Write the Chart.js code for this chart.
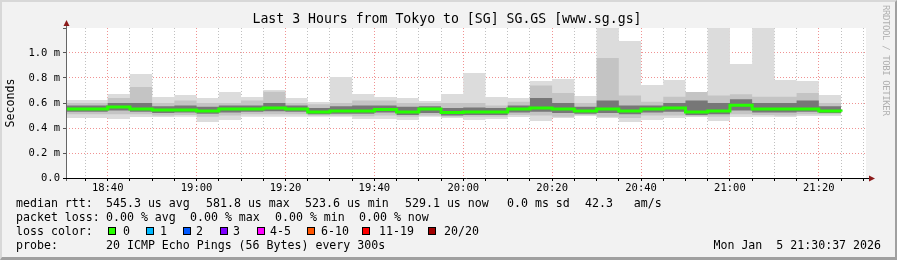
<!DOCTYPE html>
<html lang="en">
<head>
  <meta charset="UTF-8" />
  <title>Last 3 Hours from Tokyo to [SG] SG.GS</title>
  <style>
    * {
      margin: 0;
      padding: 0;
      box-sizing: border-box;
    }
    body {
      width: 897px;
      height: 260px;
      overflow: hidden;
      background-color: #f2f2f2;
      font-family: "DejaVu Sans Mono", monospace;
      color: #000;
    }
    .wrap {
      position: relative;
      width: 897px;
      height: 260px;
    }
    canvas {
      position: absolute;
      left: 0;
      top: 0;
    }
    .frame {
      position: absolute;
      left: 0;
      top: 0;
      width: 897px;
      height: 260px;
      border-top: 2px solid #d8d8d8;
      border-left: 2px solid #d8d8d8;
      border-bottom: 3px solid #a0a0a0;
      border-right: 2px solid #a0a0a0;
      pointer-events: none;
    }
    .title {
      position: absolute;
      left: 0;
      top: 11px;
      width: 894px;
      text-align: center;
      font-size: 13.2px;
      line-height: 16px;
      white-space: pre;
    }
    .txt {
      position: absolute;
      font-size: 11.6px;
      line-height: 14px;
      white-space: pre;
    }
    .sq {
      position: absolute;
      width: 8px;
      height: 8px;
      border: 1px solid #000;
    }
    .mark {
      position: absolute;
      left: 881px;
      top: 5px;
      writing-mode: vertical-rl;
      font-size: 9px;
      letter-spacing: -0.4px;
      color: #b0b0b0;
      white-space: pre;
    }
  </style>
</head>
<body>
  <div class="wrap">
    <canvas id="smokeChart" width="897" height="260"></canvas>
    <div class="title">Last 3 Hours from Tokyo to [SG] SG.GS [www.sg.gs]</div>
    <div class="mark">RRDTOOL / TOBI OETIKER</div>

    <!-- legend, one span per rrdtool item -->
    <span class="txt" style="left:16px;top:196px">median rtt:</span>
    <span class="txt" style="left:106px;top:196px">545.3 us avg</span>
    <span class="txt" style="left:206px;top:196px">581.8 us max</span>
    <span class="txt" style="left:305px;top:196px">523.6 us min</span>
    <span class="txt" style="left:405px;top:196px">529.1 us now</span>
    <span class="txt" style="left:507px;top:196px">0.0 ms sd</span>
    <span class="txt" style="left:585px;top:196px">42.3   am/s</span>

    <span class="txt" style="left:16px;top:210px">packet loss:</span>
    <span class="txt" style="left:106px;top:210px">0.00 % avg</span>
    <span class="txt" style="left:190px;top:210px">0.00 % max</span>
    <span class="txt" style="left:275px;top:210px">0.00 % min</span>
    <span class="txt" style="left:359px;top:210px">0.00 % now</span>

    <span class="txt" style="left:16px;top:224px">loss color:</span>
    <div class="sq" style="left:108px;top:227px;background:#26ff00"></div>
    <span class="txt" style="left:123px;top:224px">0</span>
    <div class="sq" style="left:146px;top:227px;background:#00b8ff"></div>
    <span class="txt" style="left:160px;top:224px">1</span>
    <div class="sq" style="left:183px;top:227px;background:#0059ff"></div>
    <span class="txt" style="left:196px;top:224px">2</span>
    <div class="sq" style="left:220px;top:227px;background:#7e00ff"></div>
    <span class="txt" style="left:233px;top:224px">3</span>
    <div class="sq" style="left:257px;top:227px;background:#ff00ff"></div>
    <span class="txt" style="left:270px;top:224px">4-5</span>
    <div class="sq" style="left:307px;top:227px;background:#ff5500"></div>
    <span class="txt" style="left:321px;top:224px">6-10</span>
    <div class="sq" style="left:362px;top:227px;background:#ff0000"></div>
    <span class="txt" style="left:379px;top:224px">11-19</span>
    <div class="sq" style="left:428px;top:227px;background:#a10000"></div>
    <span class="txt" style="left:444px;top:224px">20/20</span>

    <span class="txt" style="left:16px;top:238px">probe:</span>
    <span class="txt" style="left:106px;top:238px">20 ICMP Echo Pings (56 Bytes) every 300s</span>
    <span class="txt" style="right:16px;top:238px">Mon Jan  5 21:30:37 2026</span>

    <div class="frame"></div>
  </div>

  <script src="https://cdn.jsdelivr.net/npm/chart.js"></script>
  <script>
    // time axis in minutes of the day: 18:30:37 .. 21:30:37
    const tStart = 18 * 60 + 30 + 37 / 60;
    const tEnd = tStart + 180;
    const xTickLabels = ['18:40', '19:00', '19:20', '19:40', '20:00', '20:20', '20:40', '21:00', '21:20'];
    const yTickLabels = ['0.0', '0.2 m', '0.4 m', '0.6 m', '0.8 m', '1.0 m'];

    // rtt per 5 minute step (ms)
    const maxRtt = [0.624, 0.672, 0.832, 0.648, 0.664, 0.64, 0.688, 0.648, 0.704, 0.64, 0.608, 0.808, 0.672, 0.648, 0.64, 0.616, 0.672,
                    0.84, 0.648, 0.64, 0.776, 0.792, 0.656, 1.2, 1.096, 0.744, 0.784, 0.688, 1.2, 0.912, 1.2, 0.784, 0.776, 0.664, 0.648];
    const p90Rtt = [0.6, 0.64, 0.728, 0.6, 0.62, 0.6, 0.6, 0.62, 0.69, 0.6, 0.59, 0.6, 0.62, 0.62, 0.6, 0.6, 0.6,
                    0.6, 0.58, 0.61, 0.74, 0.68, 0.6, 0.96, 0.66, 0.61, 0.65, 0.688, 0.66, 0.67, 0.65, 0.65, 0.68, 0.6, 0.6];
    const p75Rtt = [0.58, 0.6, 0.6, 0.575, 0.58, 0.57, 0.58, 0.58, 0.6, 0.58, 0.56, 0.575, 0.58, 0.58, 0.57, 0.575, 0.56,
                    0.565, 0.56, 0.58, 0.64, 0.6, 0.57, 0.62, 0.58, 0.58, 0.6, 0.62, 0.6, 0.63, 0.6, 0.6, 0.62, 0.575, 0.57];
    const medianRtt = [0.552, 0.568, 0.552, 0.544, 0.544, 0.536, 0.552, 0.552, 0.56, 0.552, 0.528, 0.536, 0.536, 0.548, 0.528, 0.552, 0.5236,
                       0.528, 0.528, 0.552, 0.56, 0.552, 0.536, 0.552, 0.536, 0.552, 0.56, 0.528, 0.536, 0.5818, 0.552, 0.552, 0.552, 0.536, 0.5291];
    const p25Rtt = [0.53, 0.54, 0.53, 0.52, 0.525, 0.515, 0.525, 0.53, 0.535, 0.53, 0.51, 0.515, 0.515, 0.525, 0.505, 0.52, 0.5,
                    0.505, 0.505, 0.525, 0.53, 0.52, 0.515, 0.52, 0.51, 0.525, 0.53, 0.505, 0.51, 0.54, 0.525, 0.525, 0.53, 0.52, 0.51];
    const p10Rtt = [0.51, 0.51, 0.51, 0.5, 0.505, 0.49, 0.5, 0.51, 0.51, 0.51, 0.5, 0.5, 0.495, 0.5, 0.49, 0.5, 0.49,
                    0.49, 0.49, 0.505, 0.5, 0.49, 0.505, 0.49, 0.48, 0.5, 0.5, 0.495, 0.49, 0.51, 0.505, 0.5, 0.51, 0.51, 0.5];
    const minRtt = [0.48, 0.472, 0.488, 0.488, 0.49, 0.448, 0.464, 0.49, 0.49, 0.49, 0.49, 0.49, 0.472, 0.472, 0.464, 0.49, 0.48,
                    0.464, 0.472, 0.488, 0.456, 0.48, 0.496, 0.48, 0.448, 0.464, 0.48, 0.488, 0.456, 0.488, 0.49, 0.488, 0.496, 0.496, 0.488];

    // each step ends at 18:35, 18:40, ... 21:25
    const stepEnds = medianRtt.map((v, i) => 18 * 60 + 35 + 5 * i);
    function toSteps(arr) {
      return [{ x: tStart, y: arr[0] }].concat(arr.map((v, i) => ({ x: stepEnds[i], y: v })));
    }
    function toMin(label) {
      const p = label.split(':');
      return +p[0] * 60 + +p[1];
    }

    const monoTick = { family: 'DejaVu Sans Mono', size: 10.5 };

    const band = (data, color, fillTo, order) => ({
      data: toSteps(data),
      stepped: 'before',
      borderWidth: 0,
      pointRadius: 0,
      backgroundColor: color,
      fill: fillTo === null ? false : fillTo,
      order: order
    });

    const plotBg = {
      id: 'plotBg',
      beforeDraw(chart) {
        const { ctx, chartArea: a } = chart;
        ctx.save();
        ctx.fillStyle = '#ffffff';
        ctx.fillRect(a.left, a.top, a.right - a.left, a.bottom - a.top);
        ctx.restore();
      }
    };

    // axis lines with the little rrdtool arrows
    const axes = {
      id: 'axes',
      afterDraw(chart) {
        const { ctx, chartArea: a } = chart;
        ctx.save();
        ctx.lineWidth = 1;
        ctx.strokeStyle = '#666';
        ctx.beginPath();
        ctx.moveTo(a.left + 0.5, a.bottom + 3);
        ctx.lineTo(a.left + 0.5, a.top - 4);
        ctx.stroke();
        ctx.strokeStyle = '#000';
        ctx.beginPath();
        ctx.moveTo(a.left - 3, a.bottom + 0.5);
        ctx.lineTo(a.right + 4, a.bottom + 0.5);
        ctx.stroke();
        ctx.fillStyle = '#8b1a1a';
        ctx.beginPath();
        ctx.moveTo(a.left + 0.5, a.top - 8);
        ctx.lineTo(a.left - 2.5, a.top - 2);
        ctx.lineTo(a.left + 3.5, a.top - 2);
        ctx.fill();
        ctx.beginPath();
        ctx.moveTo(a.right + 9, a.bottom + 0.5);
        ctx.lineTo(a.right + 3, a.bottom - 2.5);
        ctx.lineTo(a.right + 3, a.bottom + 3.5);
        ctx.fill();
        ctx.restore();
      }
    };

    const ctx = document.getElementById('smokeChart').getContext('2d');
    const smokeChart = new Chart(ctx, {
      type: 'line',
      data: {
        datasets: [
          {
            label: 'median rtt',
            data: toSteps(medianRtt),
            stepped: 'before',
            borderColor: '#26ff00',
            borderWidth: 3,
            pointRadius: 0,
            fill: false,
            order: 0
          },
          band(p75Rtt, '#777777', 2, 1),
          band(p25Rtt, '#777777', null, 1),
          band(p90Rtt, '#c4c4c4', 4, 2),
          band(p10Rtt, '#c4c4c4', null, 2),
          band(maxRtt, '#dcdcdc', 6, 3),
          band(minRtt, '#dcdcdc', null, 3)
        ]
      },
      options: {
        responsive: false,
        devicePixelRatio: 1,
        animation: false,
        events: [],
        layout: { padding: { left: 0, top: 28, right: 31, bottom: 0 } },
        plugins: {
          legend: { display: false },
          tooltip: { enabled: false },
          title: { display: false }
        },
        scales: {
          x: {
            type: 'linear',
            min: tStart,
            max: tEnd,
            z: 1,
            afterFit(s) { s.height = 82; },
            afterBuildTicks(s) {
              const t = [];
              for (let m = 18 * 60 + 35; m <= tEnd; m += 5) t.push({ value: m });
              s.ticks = t;
            },
            ticks: {
              autoSkip: false,
              maxRotation: 0,
              padding: 1,
              color: '#000',
              font: monoTick,
              callback(value) {
                const lbl = xTickLabels.find(l => toMin(l) === value);
                return lbl || '';
              }
            },
            border: { display: false, dash: [1, 2] },
            grid: {
              tickLength: 3,
              tickColor: '#000',
              tickBorderDash: [],
              color(c) {
                if (!c.tick) return 'transparent';
                return c.tick.value % 20 === 0 ? 'rgba(235,110,110,0.75)' : 'rgba(150,150,150,0.6)';
              }
            }
          },
          y: {
            type: 'linear',
            min: 0,
            max: 1.2,
            z: 1,
            afterFit(s) { s.width = 66; },
            afterBuildTicks(s) {
              const t = [];
              for (let i = 0; i <= 12; i++) t.push({ value: i / 10 });
              s.ticks = t;
            },
            title: {
              display: true,
              text: 'Seconds',
              color: '#000',
              font: { family: 'DejaVu Sans Mono', size: 11.6 },
              padding: { top: 4, bottom: 0 }
            },
            ticks: {
              padding: 3,
              color: '#000',
              font: monoTick,
              callback(value, index) {
                if (index % 2 === 0 && index / 2 < yTickLabels.length) return yTickLabels[index / 2];
                return '';
              }
            },
            border: { display: false, dash: [1, 2] },
            grid: {
              tickLength: 3,
              tickColor: '#555',
              tickBorderDash: [],
              color(c) {
                if (!c.tick || c.index === 0 || c.index === 12) return 'transparent';
                return c.index % 2 === 0 ? 'rgba(235,110,110,0.75)' : 'rgba(150,150,150,0.6)';
              }
            }
          }
        }
      },
      plugins: [plotBg, axes]
    });
  </script>
</body>
</html>
